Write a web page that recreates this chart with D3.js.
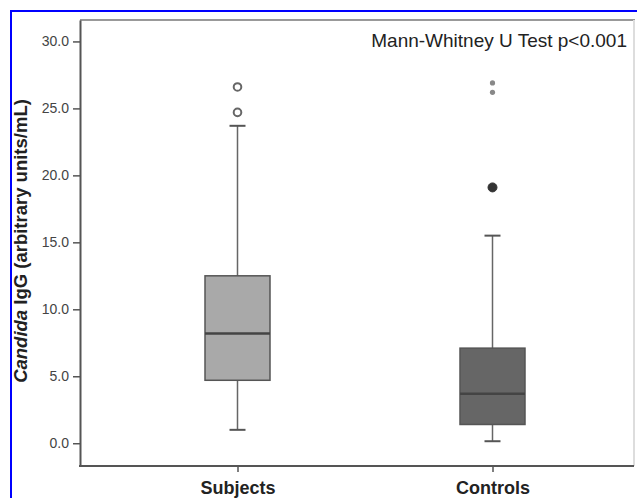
<!DOCTYPE html>
<html>
<head>
<meta charset="utf-8">
<script src="https://cdn.jsdelivr.net/npm/d3@7"></script>
<style>
  body { margin: 0; background: #fff; overflow: hidden; }
  svg { display: block; font-family: Arial, "Liberation Sans", sans-serif; }
</style>
</head>
<body>
<svg id="chart" width="637" height="498"></svg>
<script>
const groups = ['Subjects', 'Controls'];
const q1 = [4.7, 1.4];
const medians = [8.2, 3.7];
const q3 = [12.5, 7.1];
const whiskerLow = [1.0, 0.15];
const whiskerHigh = [23.7, 15.5];
const outliers = [[24.7, 26.6], [19.1]];
const extremes = [[], [26.2, 26.9]];
const yTicks = [0, 5, 10, 15, 20, 25, 30];
const boxFill = ['#a9a9a9', '#666666'];

const width = 637;
const height = 498;
const margin = { top: 20, right: 3, bottom: 32, left: 80 };

const svg = d3.select('#chart');

// blue outer frame
svg.append('path')
  .attr('d', `M11,${height} V11 H${width}`)
  .attr('fill', 'none')
  .attr('stroke', '#0000ff')
  .attr('stroke-width', 2);

const y = d3.scaleLinear()
  .domain([-1.7, 31.6])
  .range([height - margin.bottom, margin.top]);

const x = d3.scalePoint()
  .domain(groups)
  .range([110, 620])
  .padding(0.5);

const boxW = 65;
const capW = 16;
const plotR = width - margin.right;
const plotB = height - margin.bottom;

// plot frame: light top/right, dark left/bottom
svg.append('path')
  .attr('d', `M${margin.left},${margin.top} H${plotR} V${plotB}`)
  .attr('fill', 'none')
  .attr('stroke', '#999')
  .attr('stroke-width', 2);
svg.select('path:last-child').clone()
  .attr('d', `M${plotR},${margin.top} V${plotB}`)
  .attr('stroke', '#ddd');

svg.append('g')
  .attr('transform', `translate(${margin.left},0)`)
  .call(d3.axisLeft(y).tickValues(yTicks).tickSize(7).tickSizeOuter(0).tickPadding(4).tickFormat(d3.format('.1f')))
  .call(g => g.select('.domain').attr('stroke', '#555').attr('stroke-width', 2))
  .call(g => g.selectAll('.tick line').attr('stroke', '#555').attr('stroke-width', 1.5))
  .call(g => g.selectAll('.tick text').attr('fill', '#444').attr('font-size', 14).attr('font-family', 'Arial, sans-serif'));

svg.append('g')
  .attr('transform', `translate(0,${plotB})`)
  .call(d3.axisBottom(x).tickSize(6).tickPadding(9).tickSizeOuter(0))
  .call(g => g.select('.domain').remove())
  .call(g => g.selectAll('.tick line').attr('stroke', '#555').attr('stroke-width', 1.5))
  .call(g => g.selectAll('.tick text').attr('fill', '#222').attr('font-size', 18)
    .attr('font-weight', 'bold').attr('font-family', 'Arial, sans-serif'));

svg.append('line')
  .attr('x1', margin.left - 1).attr('x2', plotR)
  .attr('y1', plotB).attr('y2', plotB)
  .attr('stroke', '#555')
  .attr('stroke-width', 2);

const boxes = svg.append('g').selectAll('g')
  .data(groups)
  .join('g')
  .attr('transform', d => `translate(${x(d)},0)`);

// whiskers
boxes.append('line')
  .attr('y1', (d, i) => y(whiskerLow[i]))
  .attr('y2', (d, i) => y(whiskerHigh[i]))
  .attr('stroke', '#666')
  .attr('stroke-width', 1.5);

boxes.append('line')
  .attr('x1', -capW / 2).attr('x2', capW / 2)
  .attr('y1', (d, i) => y(whiskerLow[i]))
  .attr('y2', (d, i) => y(whiskerLow[i]))
  .attr('stroke', '#555')
  .attr('stroke-width', 2);

boxes.append('line')
  .attr('x1', -capW / 2).attr('x2', capW / 2)
  .attr('y1', (d, i) => y(whiskerHigh[i]))
  .attr('y2', (d, i) => y(whiskerHigh[i]))
  .attr('stroke', '#555')
  .attr('stroke-width', 2);

boxes.append('rect')
  .attr('x', -boxW / 2)
  .attr('width', boxW)
  .attr('y', (d, i) => y(q3[i]))
  .attr('height', (d, i) => y(q1[i]) - y(q3[i]))
  .attr('fill', (d, i) => boxFill[i])
  .attr('stroke', '#555')
  .attr('stroke-width', 1.5);

boxes.append('line')
  .attr('x1', -boxW / 2).attr('x2', boxW / 2)
  .attr('y1', (d, i) => y(medians[i]))
  .attr('y2', (d, i) => y(medians[i]))
  .attr('stroke', '#444')
  .attr('stroke-width', 2.5);

// outliers: open circles for Subjects, filled dot for Controls
boxes.each(function (d, i) {
  const g = d3.select(this);
  g.selectAll('circle.out')
    .data(outliers[i])
    .join('circle')
    .attr('class', 'out')
    .attr('cy', v => y(v))
    .attr('r', i === 0 ? 3.8 : 4.5)
    .attr('fill', i === 0 ? '#fff' : '#333')
    .attr('stroke', i === 0 ? '#666' : '#333')
    .attr('stroke-width', i === 0 ? 2 : 1);
  g.selectAll('circle.ext')
    .data(extremes[i])
    .join('circle')
    .attr('class', 'ext')
    .attr('cy', v => y(v))
    .attr('r', 2.6)
    .attr('fill', '#888');
});

svg.append('text')
  .attr('x', 627)
  .attr('y', 47)
  .attr('text-anchor', 'end')
  .attr('font-size', 19)
  .attr('fill', '#222')
  .text('Mann-Whitney U Test p<0.001');

const yl = svg.append('text')
  .attr('transform', `translate(27,241) rotate(-90)`)
  .attr('text-anchor', 'middle')
  .attr('font-size', 18.5)
  .attr('font-weight', 'bold')
  .attr('fill', '#222');
yl.append('tspan').attr('font-style', 'italic').text('Candida');
yl.append('tspan').text(' IgG (arbitrary units/mL)');
</script>
</body>
</html>
